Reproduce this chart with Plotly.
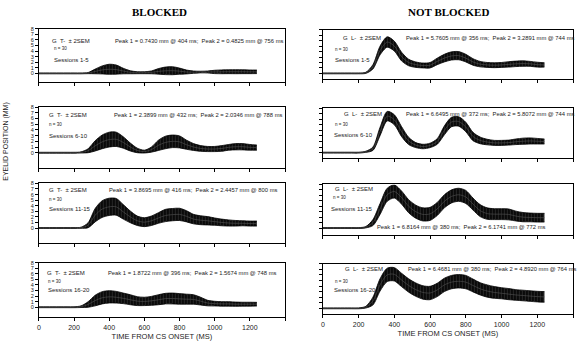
import plotly.graph_objects as go

W, H = 578, 347

time_ms = [0, 40, 80, 120, 160, 200, 240, 280, 320, 360, 400, 440, 480, 520, 560, 600,
           640, 680, 720, 760, 800, 840, 880, 920, 960, 1000, 1040, 1080, 1120, 1160, 1200, 1240]

# BLOCKED (G T-) mean eyelid position (mm) and 2*SEM half-width
mean_b_1_5 = [0, 0, 0, 0, 0, 0, 0.0, 0.05, 0.35, 0.62, 0.74, 0.68, 0.42, 0.2, 0.12, 0.12,
              0.18, 0.36, 0.46, 0.48, 0.4, 0.25, 0.22, 0.24, 0.25, 0.26, 0.28, 0.3, 0.3, 0.3, 0.28, 0.28]
sem2_b_1_5 = [0.08, 0.08, 0.08, 0.08, 0.08, 0.08, 0.08, 0.1, 0.42, 0.72, 0.9, 0.82, 0.5, 0.27, 0.18, 0.18,
              0.25, 0.5, 0.68, 0.72, 0.55, 0.35, 0.2, 0.15, 0.18, 0.3, 0.34, 0.35, 0.36, 0.35, 0.33, 0.32]

mean_b_6_10 = [0, 0, 0, 0, 0, 0, 0.05, 0.35, 1.2, 1.9, 2.3, 2.35, 1.8, 1.0, 0.4, 0.2,
               0.55, 1.3, 1.8, 2.0, 1.9, 1.4, 1.0, 0.75, 0.65, 0.65, 0.75, 0.95, 1.05, 1.05, 0.95, 0.9]
sem2_b_6_10 = [0.08, 0.08, 0.08, 0.08, 0.08, 0.08, 0.1, 0.35, 0.9, 1.2, 1.3, 1.25, 1.0, 0.7, 0.4, 0.25,
               0.45, 0.9, 1.1, 1.1, 1.05, 0.8, 0.6, 0.5, 0.45, 0.45, 0.5, 0.5, 0.55, 0.55, 0.5, 0.45]

mean_b_11_15 = [0, 0, 0, 0, 0, 0, 0.05, 0.5, 2.3, 3.4, 3.8, 3.8, 2.9, 2.0, 1.3, 1.05,
                1.3, 1.8, 2.25, 2.4, 2.45, 2.1, 1.6, 1.4, 1.3, 1.15, 1.0, 0.9, 0.85, 0.85, 0.8, 0.8]
sem2_b_11_15 = [0.08, 0.08, 0.08, 0.08, 0.08, 0.08, 0.1, 0.45, 1.2, 1.5, 1.55, 1.5, 1.3, 1.05, 0.85, 0.8,
                0.85, 0.95, 1.1, 1.1, 1.1, 1.0, 0.85, 0.8, 0.75, 0.65, 0.6, 0.55, 0.5, 0.45, 0.45, 0.45]

mean_b_16_20 = [0, 0, 0, 0, 0, 0, 0.1, 0.5, 1.2, 1.7, 1.87, 1.8, 1.6, 1.35, 1.1, 1.05,
                1.15, 1.35, 1.55, 1.57, 1.5, 1.45, 1.4, 1.1, 0.75, 0.65, 0.6, 0.6, 0.55, 0.55, 0.55, 0.55]
sem2_b_16_20 = [0.08, 0.08, 0.08, 0.08, 0.08, 0.08, 0.15, 0.5, 0.95, 1.1, 1.1, 1.05, 0.95, 0.9, 0.8, 0.75,
                0.8, 0.9, 0.95, 0.98, 0.95, 0.9, 0.85, 0.7, 0.5, 0.42, 0.4, 0.4, 0.38, 0.35, 0.35, 0.33]

# NOT BLOCKED (G L-)
mean_nb_1_5 = [0, 0, 0, 0, 0, 0, 0.1, 1.2, 4.2, 5.75, 5.0, 3.1, 2.0, 1.6, 1.45, 1.5,
               2.2, 2.8, 3.2, 3.25, 2.8, 2.1, 1.7, 1.55, 1.5, 1.55, 1.65, 1.75, 1.8, 1.75, 1.6, 1.55]
sem2_nb_1_5 = [0.08, 0.08, 0.08, 0.08, 0.08, 0.08, 0.1, 0.4, 0.8, 0.95, 0.9, 0.8, 0.6, 0.5, 0.45, 0.5,
               0.6, 0.7, 0.75, 0.75, 0.7, 0.6, 0.5, 0.45, 0.45, 0.45, 0.5, 0.5, 0.5, 0.45, 0.45, 0.4]

mean_nb_6_10 = [0, 0, 0, 0, 0, 0, 0.15, 0.7, 3.8, 6.55, 5.9, 3.8, 2.1, 1.35, 1.1, 1.3,
                2.0, 4.0, 5.5, 5.6, 4.6, 2.9, 2.2, 1.9, 1.75, 1.75, 1.8, 1.95, 2.05, 2.1, 2.05, 2.0]
sem2_nb_6_10 = [0.08, 0.08, 0.08, 0.08, 0.08, 0.08, 0.1, 0.3, 0.75, 0.85, 0.9, 0.9, 0.65, 0.45, 0.4, 0.4,
                0.5, 0.8, 0.85, 0.85, 0.85, 0.75, 0.6, 0.5, 0.45, 0.45, 0.45, 0.5, 0.55, 0.55, 0.5, 0.45]

mean_nb_11_15 = [0, 0, 0, 0, 0, 0, 0.15, 1.0, 3.5, 6.1, 6.7, 5.6, 4.0, 3.0, 2.5, 2.6,
                 3.5, 4.9, 5.8, 6.1, 5.7, 4.4, 3.2, 2.65, 2.55, 2.55, 2.5, 2.2, 2.0, 1.95, 1.9, 1.9]
sem2_nb_11_15 = [0.08, 0.08, 0.08, 0.08, 0.08, 0.08, 0.12, 0.55, 1.0, 1.2, 1.2, 1.2, 1.2, 1.2, 1.2, 1.2,
                 1.2, 1.2, 1.2, 1.2, 1.2, 1.1, 1.1, 1.05, 1.0, 1.0, 1.0, 0.9, 0.85, 0.8, 0.8, 0.8]

mean_nb_16_20 = [0, 0, 0, 0, 0, 0, 0.2, 1.3, 4.2, 6.0, 6.1, 5.1, 4.1, 3.35, 2.85, 2.75,
                 3.3, 4.2, 4.7, 4.85, 4.7, 4.1, 3.5, 3.1, 2.85, 2.7, 2.55, 2.4, 2.3, 2.2, 2.1, 2.05]
sem2_nb_16_20 = [0.08, 0.08, 0.08, 0.08, 0.08, 0.08, 0.15, 0.7, 1.1, 1.2, 1.2, 1.2, 1.2, 1.2, 1.2, 1.2,
                 1.2, 1.2, 1.2, 1.2, 1.2, 1.15, 1.1, 1.1, 1.05, 1.0, 1.0, 0.95, 0.95, 0.95, 0.95, 0.95]

sessions = ["Sessions 1-5", "Sessions 6-10", "Sessions 11-15", "Sessions 16-20"]
peak_b = ["Peak 1 = 0.7430 mm @ 404 ms;  Peak 2 = 0.4825 mm @ 756 ms",
          "Peak 1 = 2.3899 mm @ 432 ms;  Peak 2 = 2.0346 mm @ 788 ms",
          "Peak 1 = 3.8695 mm @ 416 ms;  Peak 2 = 2.4457 mm @ 800 ms",
          "Peak 1 = 1.8722 mm @ 396 ms;  Peak 2 = 1.5674 mm @ 748 ms"]
peak_nb = ["Peak 1 = 5.7605 mm @ 356 ms;  Peak 2 = 3.2891 mm @ 744 ms",
           "Peak 1 = 6.6495 mm @ 372 ms;  Peak 2 = 5.8072 mm @ 744 ms",
           "Peak 1 = 6.8164 mm @ 380 ms;  Peak 2 = 6.1741 mm @ 772 ms",
           "Peak 1 = 6.4681 mm @ 380 ms;  Peak 2 = 4.8920 mm @ 764 ms"]
x_ticks = [0, 200, 400, 600, 800, 1000, 1200, 1400]
x_tick_labels = ["0", "200", "400", "600", "800", "1000", "1200", ""]
y_ticks = [0, 1, 2, 3, 4, 5, 6, 7, 8]

blocked = [(mean_b_1_5, sem2_b_1_5), (mean_b_6_10, sem2_b_6_10),
           (mean_b_11_15, sem2_b_11_15), (mean_b_16_20, sem2_b_16_20)]
notblocked = [(mean_nb_1_5, sem2_nb_1_5), (mean_nb_6_10, sem2_nb_6_10),
              (mean_nb_11_15, sem2_nb_11_15), (mean_nb_16_20, sem2_nb_16_20)]


def fx(p):
    return p / W


def fy(p):
    return 1 - p / H


# pixel geometry: (left, right, top, bottom, ymin)
left_geo = [(37, 284, 26, 80, -1.6), (37, 284, 105, 166, -2.6),
            (37, 284, 182, 242, -2.67), (37, 284, 262, 317, -1.8)]
right_geo = [(322, 573, 27, 77, -1.09), (322, 573, 106, 156, -0.9),
             (322, 573, 183, 234, -1.27), (322, 573, 263, 314, -1.07)]

fig = go.Figure()
layout = {}
annotations = []
FONT = "Liberation Sans, Arial, sans-serif"

panels = []
for r in range(4):
    panels.append(("L", r, blocked[r], left_geo[r]))
    panels.append(("R", r, notblocked[r], right_geo[r]))

for i, (side, r, (mean, sem2), geo) in enumerate(panels):
    n = i + 1
    xa = "x" if n == 1 else f"x{n}"
    ya = "y" if n == 1 else f"y{n}"
    xkey = "xaxis" if n == 1 else f"xaxis{n}"
    ykey = "yaxis" if n == 1 else f"yaxis{n}"
    lo = [m - s for m, s in zip(mean, sem2)]
    hi = [m + s for m, s in zip(mean, sem2)]
    fig.add_trace(go.Scatter(x=time_ms, y=lo, xaxis=xa, yaxis=ya, mode="lines",
                             line=dict(color="#000000", width=0.8, shape="spline", smoothing=0.8),
                             showlegend=False, hoverinfo="skip"))
    fig.add_trace(go.Scatter(x=time_ms, y=hi, xaxis=xa, yaxis=ya, mode="lines", fill="tonexty",
                             fillcolor="#0c0c0c",
                             fillpattern=dict(shape="|", bgcolor="#0a0a0a", fgcolor="#4a4a4a",
                                              size=3, solidity=0.3),
                             line=dict(color="#000000", width=0.8, shape="spline", smoothing=0.8),
                             showlegend=False, hoverinfo="skip"))
    fig.add_trace(go.Scatter(x=time_ms, y=mean, xaxis=xa, yaxis=ya, mode="lines",
                             line=dict(color="#555555", width=0.6, shape="spline", smoothing=0.8),
                             showlegend=False, hoverinfo="skip"))
    l, rr, t, b, ymin = geo
    bottom_row = (r == 3)
    layout[xkey] = dict(domain=[fx(l), fx(rr)], range=[0, 1400], anchor=ya,
                        tickvals=x_ticks, ticktext=x_tick_labels,
                        showticklabels=bottom_row, ticks="outside", ticklen=3, tickwidth=1,
                        tickcolor="#000", showline=True, linecolor="#000", linewidth=1,
                        mirror=True, showgrid=False, zeroline=False,
                        tickfont=dict(family=FONT, size=7, color="#222"))
    if bottom_row:
        layout[xkey]["title"] = dict(text="TIME FROM CS ONSET (MS)", standoff=4,
                                     font=dict(family=FONT, size=7.5, color="#222"))
    layout[ykey] = dict(domain=[fy(b), fy(t)], range=[ymin, 8], anchor=xa,
                        tickvals=y_ticks, ticktext=[str(v) for v in y_ticks],
                        showticklabels=(side == "L"), ticks="outside", ticklen=3, tickwidth=1,
                        tickcolor="#000", showline=True, linecolor="#000", linewidth=1,
                        mirror=True, showgrid=False, zeroline=False,
                        tickfont=dict(family=FONT, size=5.5, color="#222"))


def label(x, y, text, size=6):
    annotations.append(dict(x=fx(x), y=fy(y), xref="paper", yref="paper", text=text,
                            showarrow=False, xanchor="left", yanchor="middle",
                            font=dict(family=FONT, size=size, color="#222")))


left_txt = [((48, 38), (50, 46), (50, 57), (111, 38)),
            ((45, 113), (45, 123), (45, 134), (110, 113)),
            ((45, 189), (45, 198), (45, 208), (105, 189)),
            ((43, 272), (44, 281), (44, 289), (104, 272))]
right_txt = [((340, 35), (332, 47), (332, 57), (403, 35)),
             ((341, 112), (332, 123), (331, 133), (403, 112)),
             ((332, 188), (330, 196), (328, 208), (374, 226)),
             ((342, 268), (332, 281), (331, 289), (405, 268))]

for r in range(4):
    g, nn, s, p = left_txt[r]
    label(*g, "G  T-  ± 2SEM")
    label(*nn, "n = 30", 4.5)
    label(*s, sessions[r])
    label(*p, peak_b[r], 5.8)
    g, nn, s, p = right_txt[r]
    label(*g, "G  L-  ± 2SEM")
    label(*nn, "n = 30", 4.5)
    label(*s, sessions[r])
    label(*p, peak_nb[r], 5.8)

for txt, x in (("BLOCKED", 158), ("NOT BLOCKED", 448)):
    annotations.append(dict(x=fx(x), y=fy(9), xref="paper", yref="paper", text=f"<b>{txt}</b>",
                            showarrow=False, xanchor="center", yanchor="middle",
                            font=dict(family="Liberation Serif, Times New Roman, serif", size=11,
                                      color="#000")))

annotations.append(dict(x=fx(4), y=fy(139), xref="paper", yref="paper",
                        text="EYELID POSITION (MM)", textangle=-90, showarrow=False,
                        xanchor="center", yanchor="middle",
                        font=dict(family=FONT, size=7, color="#222")))

fig.update_layout(width=W, height=H, margin=dict(l=0, r=0, t=0, b=0),
                  paper_bgcolor="white", plot_bgcolor="white",
                  annotations=annotations, showlegend=False, **layout)

fig.write_html("out.html", config={"displayModeBar": False},
               post_script="document.body.style.margin='0';document.body.style.padding='0';"
                           "document.body.style.overflow='hidden';")
